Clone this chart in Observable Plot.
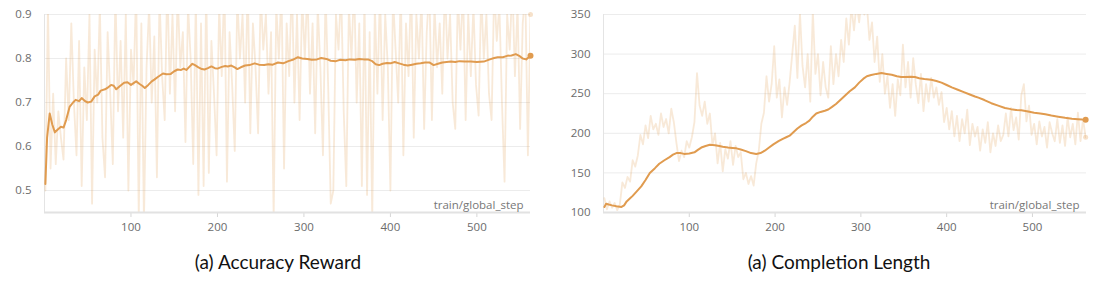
<!DOCTYPE html>
<html><head><meta charset="utf-8">
<script src="https://cdn.jsdelivr.net/npm/d3@7"></script>
<script src="https://cdn.jsdelivr.net/npm/@observablehq/plot@0.6"></script>
<style>
body{margin:0;background:#fff;}
#wrap{display:flex;width:1113px;}
.panel{position:relative}
.cap{font-family:Lato, sans-serif;font-size:19px;color:#111;text-align:center;margin-top:11px;line-height:22px}
</style></head><body>
<div id="wrap"><div class="panel" id="p1"></div><div class="panel" id="p2"></div></div>
<script>
// ---------- data ----------
const xTickValues = [100, 200, 300, 400, 500];
const accYTicks = [0.5, 0.6, 0.7, 0.8, 0.9];
const lenYTicks = [100, 150, 200, 250, 300, 350];
const xLabel = "train/global_step";
const captionAcc = "(a) Accuracy Reward";
const captionLen = "(a) Completion Length";

const rawSteps = d3.range(1, 563, 3);

const accRaw = [0.50,0.92,0.55,0.72,0.56,0.68,0.62,0.57,0.80,0.66,0.88,0.70,0.58,0.84,0.51,0.78,0.66,0.90,0.47,0.82,
0.70,0.92,0.62,0.53,0.86,0.72,0.56,0.95,0.68,0.84,0.62,0.90,0.50,0.82,0.74,0.96,0.44,0.88,0.43,0.78,
0.92,0.70,0.85,0.53,0.94,0.76,0.66,0.98,0.72,0.90,0.68,0.95,0.78,0.86,0.61,0.92,0.80,0.56,0.94,0.49,
0.88,0.51,0.96,0.54,0.84,0.72,0.58,0.92,0.76,0.98,0.52,0.86,0.74,0.59,0.94,0.80,0.90,0.70,0.97,0.63,
0.88,0.78,0.63,0.95,0.82,0.90,0.72,0.86,0.44,0.92,0.80,0.96,0.55,0.88,0.76,0.98,0.70,0.90,0.66,0.94,
0.80,0.96,0.72,0.88,0.63,0.92,0.78,0.58,0.95,0.74,0.47,0.50,0.90,0.82,0.96,0.68,0.51,0.92,0.80,0.97,
0.70,0.88,0.51,0.94,0.49,0.86,0.44,0.92,0.72,0.96,0.66,0.90,0.78,0.50,0.94,0.82,0.70,0.96,0.58,0.88,
0.76,0.98,0.62,0.90,0.80,0.94,0.64,0.86,0.96,0.66,0.92,0.78,0.88,0.72,0.97,0.80,0.90,0.70,0.64,0.94,
0.82,0.96,0.66,0.90,0.76,0.92,0.74,0.67,0.95,0.80,0.90,0.72,0.66,0.96,0.84,0.92,0.70,0.52,0.90,0.82,
0.97,0.76,0.92,0.64,0.88,0.95,0.58,0.90];

const accSmoothSteps = [1,3,6,9,12,15,19,22,25,29,33,36,40,43,47,50,54,58,62,65,70,74,77,80,83,87,92,96,100,103,106,110,113,116,120,124,127,131,134,137,141,146,150,154,158,161,164,168,171,174,178,182,185,189,193,197,200,205,209,212,216,220,223,227,232,237,243,248,254,259,264,270,276,282,287,293,298,304,309,315,320,326,331,337,342,348,353,359,364,369,374,379,383,387,391,396,400,405,410,415,420,425,430,435,440,445,450,455,460,465,470,475,480,486,493,500,508,515,520,524,530,535,540,545,549,553,557,560,562];
const accSmooth = [0.515,0.62,0.675,0.65,0.632,0.638,0.645,0.643,0.66,0.69,0.70,0.706,0.703,0.71,0.703,0.70,0.702,0.714,0.718,0.727,0.73,0.735,0.74,0.738,0.73,0.737,0.745,0.746,0.74,0.744,0.748,0.742,0.738,0.733,0.74,0.748,0.752,0.758,0.762,0.766,0.764,0.765,0.771,0.775,0.774,0.777,0.774,0.782,0.788,0.785,0.78,0.776,0.775,0.778,0.782,0.778,0.777,0.781,0.783,0.782,0.784,0.78,0.776,0.78,0.784,0.785,0.789,0.786,0.785,0.787,0.786,0.791,0.789,0.794,0.797,0.803,0.80,0.799,0.797,0.798,0.801,0.799,0.795,0.794,0.797,0.796,0.798,0.797,0.799,0.798,0.798,0.794,0.787,0.785,0.788,0.79,0.789,0.792,0.789,0.786,0.784,0.786,0.788,0.789,0.791,0.791,0.785,0.788,0.791,0.792,0.793,0.792,0.794,0.793,0.793,0.792,0.793,0.798,0.801,0.803,0.803,0.806,0.807,0.81,0.806,0.80,0.798,0.803,0.806];

const lenRaw = [118,104,114,106,112,103,110,138,131,145,139,166,158,172,198,186,210,194,222,205,
212,198,225,208,218,200,231,214,188,165,178,170,190,182,195,214,276,235,222,240,
212,225,185,200,162,188,152,180,168,190,160,184,170,176,142,150,136,146,134,162,
178,212,226,272,240,262,310,245,268,220,258,236,265,300,336,270,352,285,258,300,
240,355,275,300,248,290,258,245,310,262,300,272,318,290,345,312,360,330,365,340,
372,350,362,318,340,290,322,265,300,250,272,232,262,222,268,248,312,258,290,245,
295,262,238,275,228,262,240,270,245,258,236,252,214,232,205,228,196,222,190,218,
200,230,185,212,196,208,178,205,188,214,176,200,184,210,190,198,225,196,232,204,
220,192,248,262,215,235,198,212,186,215,196,208,182,214,200,190,218,188,210,184,
220,195,212,186,226,190,218,195];

const lenSmoothSteps = [1,3,6,10,15,21,24,27,31,34,39,44,49,54,60,65,71,77,81,85,90,94,100,106,110,114,119,124,130,135,139,145,150,155,160,166,172,178,183,188,193,198,204,209,213,217,221,226,231,236,240,244,248,253,258,262,266,271,277,282,287,293,298,303,307,312,318,324,330,336,342,347,352,358,363,368,374,382,388,394,400,406,413,420,427,433,437,444,452,460,468,475,481,487,495,502,509,515,522,530,538,546,553,558,562];
const lenSmooth = [107,111,110,109,108,107,109,114,118,121,127,133,141,150,156,161.5,166,170,173,175,175,174,174.5,176,179,182,184,185.5,185,184,183,182,181.5,181,179.5,177.5,175,174,175,178,182,186,190,193,195,197,201,206,210,213,216,221,225,227,228.5,230,233,237,243,248,253,258,264,269,272,273.5,275,276,275,274,272,271,271,271.5,271,269.5,268.5,267.5,266,264,261,258,255,252,249,246.5,245,242,238,235,232,230.5,229.5,229,227.5,226,225,224,222.5,221,219.6,218.5,217.8,217.3,217];

// ---------- drawing ----------
const C = "#e09b4f";
function panel({width, ml, mr, xDomain, yDomain, yTicks, yFmt, rawV, smS, smV}) {
  const raw = rawSteps.map((s, i) => ({s, v: rawV[i]}));
  const sm = smS.map((s, i) => ({s, v: smV[i]}));
  return Plot.plot({
    width, height: 240,
    marginLeft: ml, marginRight: mr, marginTop: 14, marginBottom: 28,
    style: {fontFamily: "'Open Sans', sans-serif", fontSize: "11px", color: "#6b6b6b", background: "#fff"},
    x: {domain: xDomain, label: null},
    y: {domain: yDomain, label: null},
    marks: [
      Plot.gridY(yTicks, {stroke: "#ececec", strokeOpacity: 1}),
      Plot.ruleX([xDomain[0]], {stroke: "#e4e4e4"}),
      Plot.axisY(yTicks, {tickSize: 0, tickPadding: 13, tickFormat: yFmt, fill: "#6b6b6b", label: null, fontSize: 11.5}),
      Plot.axisX(xTickValues, {tickSize: 5, tickPadding: 5, stroke: "#d6d6d6", fill: "#6b6b6b", label: null, fontSize: 11.5}),
      Plot.line(raw, {x: "s", y: "v", stroke: C, strokeOpacity: 0.22, strokeWidth: 1.8, clip: true}),
      Plot.dot(raw.slice(-1), {x: "s", y: "v", r: 2.5, fill: C, fillOpacity: 0.3}),
      Plot.line(sm, {x: "s", y: "v", stroke: C, strokeWidth: 2, clip: true}),
      Plot.dot(sm.slice(-1), {x: "s", y: "v", r: 3, fill: C}),
      Plot.ruleY([yDomain[0]], {stroke: "#e2e2e2", strokeWidth: 2}),
      Plot.text([xLabel], {text: d => d, frameAnchor: "bottom-right", dx: -7, dy: -4, fill: "#777", fontSize: 11.5})
    ]
  });
}

function addCaption(el, text, shift) {
  const d = document.createElement("div");
  d.className = "cap";
  d.style.paddingLeft = shift + "px";
  d.textContent = text;
  el.appendChild(d);
}

const p1 = document.getElementById("p1");
p1.appendChild(panel({width: 556, ml: 44, mr: 26, xDomain: [0, 562], yDomain: [0.45, 0.9],
  yTicks: accYTicks, yFmt: d3.format(".1f"), rawV: accRaw, smS: accSmoothSteps, smV: accSmooth}));
addCaption(p1, captionAcc, 0);

const p2 = document.getElementById("p2");
p2.appendChild(panel({width: 557, ml: 47, mr: 27, xDomain: [0, 563], yDomain: [100, 350],
  yTicks: lenYTicks, yFmt: d3.format("d"), rawV: lenRaw, smS: lenSmoothSteps, smV: lenSmooth}));
addCaption(p2, captionLen, 9);
</script>
</body></html>
